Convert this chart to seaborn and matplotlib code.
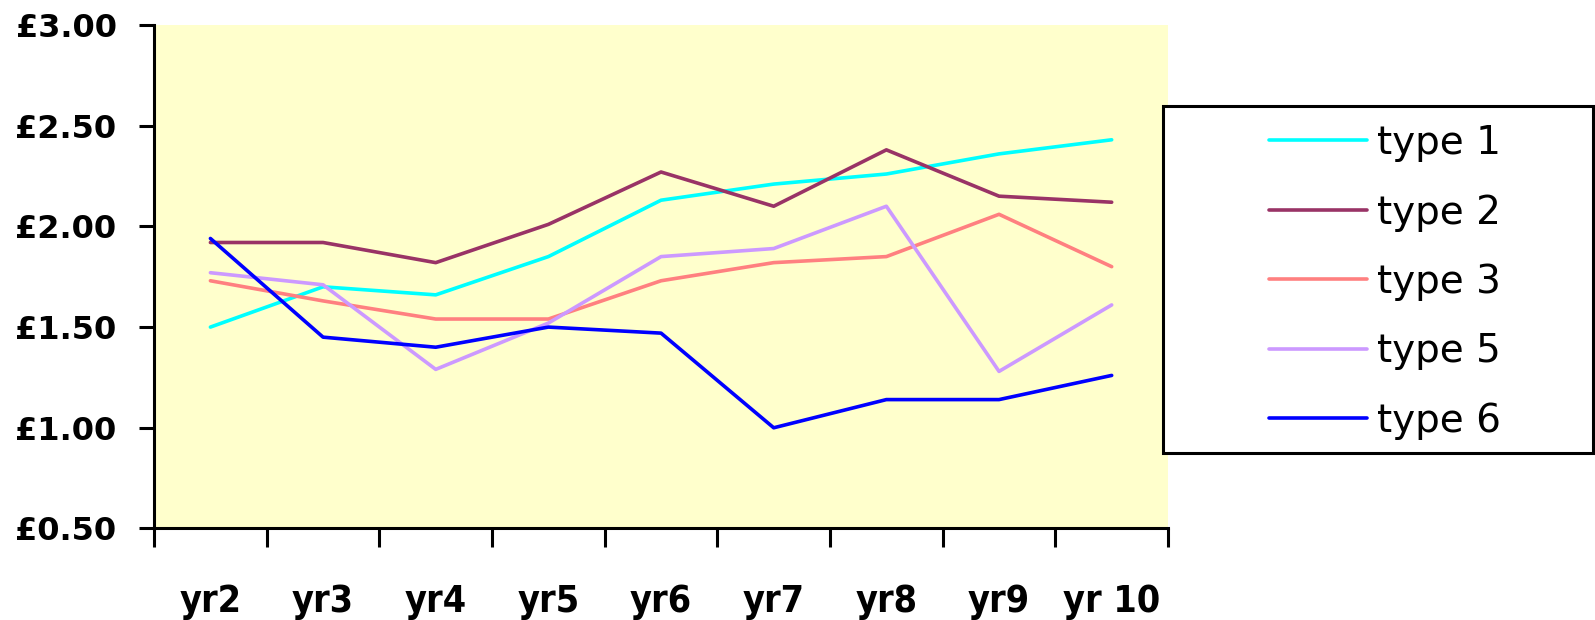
import numpy as np
import pandas as pd
import seaborn as sns
import matplotlib.pyplot as plt
from matplotlib.patches import Rectangle

# dados
years = ['yr2', 'yr3', 'yr4', 'yr5', 'yr6', 'yr7', 'yr8', 'yr9', 'yr 10']
type_1 = [1.50, 1.70, 1.66, 1.85, 2.13, 2.21, 2.26, 2.36, 2.43]
type_2 = [1.92, 1.92, 1.82, 2.01, 2.27, 2.10, 2.38, 2.15, 2.12]
type_3 = [1.73, 1.63, 1.54, 1.54, 1.73, 1.82, 1.85, 2.06, 1.80]
type_5 = [1.77, 1.71, 1.29, 1.52, 1.85, 1.89, 2.10, 1.28, 1.61]
type_6 = [1.94, 1.45, 1.40, 1.50, 1.47, 1.00, 1.14, 1.14, 1.26]
series_names = ['type 1', 'type 2', 'type 3', 'type 5', 'type 6']
colors = ['#00FFFF', '#993366', '#FF8080', '#CC99FF', '#0000FF']
y_ticks = [0.5, 1.0, 1.5, 2.0, 2.5, 3.0]

# montar DataFrame longo
frames = []
for name, vals in zip(series_names, [type_1, type_2, type_3, type_5, type_6]):
    frames.append(pd.DataFrame({'year': years, 'price': vals, 'type': name}))
df = pd.concat(frames, ignore_index=True)
df['pos'] = df['year'].map({y: i for i, y in enumerate(years)})

sns.set_style('white')
plt.rcParams['font.family'] = ['DejaVu Sans']
plt.rcParams['text.color'] = 'black'
plt.rcParams['xtick.color'] = 'black'
plt.rcParams['ytick.color'] = 'black'

fig = plt.figure(figsize=(15.95, 6.2), dpi=100)
ax = fig.add_axes([0.0966, 0.1476, 0.7323 - 0.0966, 0.9597 - 0.1476])
ax.set_facecolor('#FFFFCC')

sns.lineplot(data=df, x='pos', y='price', hue='type', hue_order=series_names,
             palette=colors, linewidth=2.6, sort=False, ax=ax, legend=True)

ax.set_xlim(-0.5, len(years) - 0.5)
ax.set_ylim(0.5, 3.0)
ax.set_xlabel('')
ax.set_ylabel('')

# eixos
for s in ['top', 'right']:
    ax.spines[s].set_visible(False)
for s in ['left', 'bottom']:
    ax.spines[s].set_linewidth(2.2)
    ax.spines[s].set_color('black')

ax.set_yticks(y_ticks)
ax.set_yticklabels(['£%.2f' % v for v in y_ticks], fontsize=23, fontweight='bold', color='black')
ax.tick_params(axis='y', length=11, width=2.2, pad=16, direction='out', left=True)

# rotulos centrados, tracos nas fronteiras das categorias
ax.set_xticks(range(len(years)))
ax.set_xticklabels(years, fontsize=27, fontweight='bold', fontstretch='condensed', color='black')
ax.tick_params(axis='x', which='major', length=0, pad=40)
ax.set_xticks(np.arange(-0.5, len(years)), minor=True)
ax.tick_params(axis='x', which='minor', length=13.5, width=2.2, direction='out', bottom=True)

# legenda
handles, labels = ax.get_legend_handles_labels()
ax.get_legend().remove()
fig.patches.append(Rectangle((1163 / 1595, 1 - 453 / 620), (1593 - 1163) / 1595, (453 - 106) / 620,
                             transform=fig.transFigure, facecolor='white', edgecolor='black',
                             linewidth=2.2, zorder=0))
leg = fig.legend(handles, labels, loc='center left', bbox_to_anchor=(1269 / 1595, 1 - 282 / 620),
                 frameon=False, fontsize=28, handlelength=2.52, handletextpad=0.26,
                 labelspacing=0.81, borderpad=0, borderaxespad=0)
for t in leg.get_texts():
    t.set_color('black')

fig.savefig('out.png', dpi=100)
